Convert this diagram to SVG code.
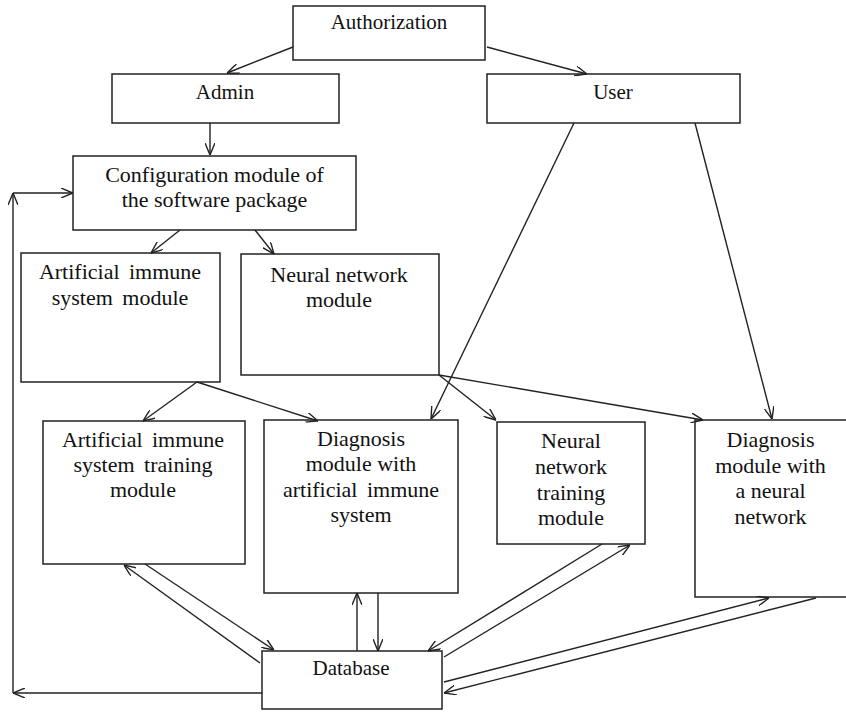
<svg xmlns="http://www.w3.org/2000/svg" width="846" height="712" viewBox="0 0 846 712">
<style>
.box{fill:#fff;stroke:#222;stroke-width:1.5}
.t{font-family:"Liberation Serif","Times New Roman",serif;font-size:22px;fill:#111;text-anchor:middle}
.s{font-size:21px}
.ws{word-spacing:4px}
.c{stroke:#222;stroke-width:1.4;fill:none;marker-end:url(#ah)}
.l{stroke:#222;stroke-width:1.4;fill:none}
</style>
<defs>
<marker id="ah" viewBox="0 0 12 10" refX="12" refY="5" markerWidth="12" markerHeight="10" markerUnits="userSpaceOnUse" orient="auto">
<path d="M0,0 L12,5 L0,10" fill="none" stroke="#222" stroke-width="1.4"/>
</marker>
</defs>
<rect width="846" height="712" fill="#fff"/>
<g id="authorization"><rect class="box" x="293" y="6" width="192" height="54"/><text class="t s" x="389" y="29">Authorization</text></g>
<g id="admin"><rect class="box" x="112" y="74" width="227" height="49"/><text class="t s" x="225" y="99">Admin</text></g>
<g id="user"><rect class="box" x="487" y="74" width="253" height="49"/><text class="t s" x="613" y="99">User</text></g>
<g id="config"><rect class="box" x="73" y="156" width="283" height="74"/><text class="t" x="214.5" y="182">Configuration module of</text><text class="t" x="214.5" y="207">the software package</text></g>
<g id="ais"><rect class="box" x="21" y="253" width="199" height="129"/><text class="t ws" x="120" y="279">Artificial immune</text><text class="t ws" x="120" y="305">system module</text></g>
<g id="nn"><rect class="box" x="241" y="254" width="198" height="121"/><text class="t" x="339" y="282">Neural network</text><text class="t" x="339" y="307">module</text></g>
<g id="ais-training"><rect class="box" x="43" y="421" width="202" height="143"/><text class="t ws" x="143" y="447">Artificial immune</text><text class="t ws" x="143" y="472">system training</text><text class="t" x="143" y="497">module</text></g>
<g id="diag-ais"><rect class="box" x="264" y="420" width="194" height="173"/><text class="t" x="361" y="446">Diagnosis</text><text class="t" x="361" y="471">module with</text><text class="t ws" x="361" y="497">artificial immune</text><text class="t" x="361" y="522">system</text></g>
<g id="nn-training"><rect class="box" x="497" y="422" width="148" height="122"/><text class="t" x="571" y="448">Neural</text><text class="t" x="571" y="474">network</text><text class="t" x="571" y="500">training</text><text class="t" x="571" y="525">module</text></g>
<g id="diag-nn"><rect class="box" x="695" y="420" width="155" height="177"/><text class="t" x="770.5" y="447">Diagnosis</text><text class="t" x="770.5" y="473">module with</text><text class="t" x="770.5" y="498">a neural</text><text class="t" x="770.5" y="524">network</text></g>
<g id="database"><rect class="box" x="262" y="651" width="180" height="58"/><text class="t s" x="351" y="675">Database</text></g>
<g id="connectors">
<line class="c" x1="293" y1="47" x2="227" y2="73"/>
<line class="c" x1="487" y1="47" x2="587" y2="74"/>
<line class="c" x1="210" y1="123" x2="210" y2="155"/>
<line class="c" x1="180" y1="230" x2="151" y2="253"/>
<line class="c" x1="255" y1="230" x2="274" y2="254"/>
<line class="c" x1="574" y1="123" x2="431" y2="419"/>
<line class="c" x1="695" y1="123" x2="772" y2="419"/>
<line class="c" x1="197" y1="382" x2="143" y2="421"/>
<line class="c" x1="197" y1="382" x2="318" y2="421"/>
<line class="c" x1="439" y1="375" x2="496" y2="420"/>
<line class="c" x1="439" y1="375" x2="703" y2="420"/>
<line class="c" x1="260" y1="663" x2="124" y2="565"/>
<line class="c" x1="145" y1="564" x2="274" y2="650"/>
<line class="c" x1="357" y1="651" x2="357" y2="593"/>
<line class="c" x1="378" y1="593" x2="378" y2="651"/>
<line class="c" x1="602" y1="544" x2="428" y2="651"/>
<line class="c" x1="444" y1="657" x2="630" y2="545"/>
<line class="c" x1="444" y1="682" x2="769" y2="598"/>
<line class="c" x1="816" y1="598" x2="444" y2="693"/>
<line class="c" x1="262" y1="693" x2="13" y2="693"/>
<line class="c" x1="13" y1="693" x2="13" y2="193"/>
<line class="c" x1="13" y1="193" x2="73" y2="193"/>
</g>
</svg>
